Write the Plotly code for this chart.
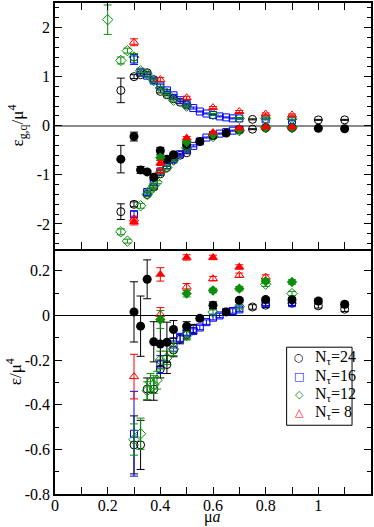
import plotly.graph_objects as go
from plotly.subplots import make_subplots

# ---- top panel: eps_g,q / mu^4 ----
# N_tau = 24 (black)
t24_pos_x = [0.25, 0.30, 0.325, 0.35, 0.375, 0.40, 0.425, 0.45, 0.475, 0.50, 0.75, 1.0, 1.1]
t24_pos_y = [0.72, 1.00, 1.04, 1.08, 0.94, 0.70, 0.63, 0.55, 0.48, 0.42, 0.13, 0.12, 0.12]
t24_pos_e = [0.25, 0.04, 0.03, 0.03, 0.03, 0.03, 0.02, 0.02, 0.02, 0.02, 0.01, 0.01, 0.01]
t24_neg_x = [0.25, 0.30, 0.35, 0.375, 0.40, 0.425, 0.45, 0.475, 0.50, 0.75]
t24_neg_y = [-1.75, -1.60, -1.40, -1.25, -0.98, -0.85, -0.70, -0.60, -0.55, -0.07]
t24_neg_e = [0.16, 0.05, 0.04, 0.04, 0.03, 0.03, 0.02, 0.02, 0.02, 0.01]
t24_fil_x = [0.25, 0.30, 0.325, 0.35, 0.375, 0.40, 0.425, 0.45, 0.50, 0.55, 0.60, 0.65, 0.70, 0.80, 0.90, 1.0, 1.1]
t24_fil_y = [-0.68, -0.22, -0.90, -0.94, -1.05, -0.51, -0.68, -0.59, -0.38, -0.32, -0.20, -0.15, -0.08, -0.04, -0.04, -0.05, -0.06]
t24_fil_e = [0.28, 0.09, 0.07, 0.04, 0.04, 0.07, 0.04, 0.03, 0.03, 0.02, 0.02, 0.02, 0.01, 0.01, 0.01, 0.01, 0.01]

# N_tau = 16 (blue)
t16_pos_x = [0.30, 0.325, 0.35, 0.375, 0.40, 0.425, 0.45, 0.475, 0.50, 0.525, 0.55, 0.575, 0.60,
             0.625, 0.65, 0.675, 0.70, 0.80, 0.90]
t16_pos_y = [1.35, 1.10, 1.02, 0.92, 0.82, 0.72, 0.62, 0.52, 0.44, 0.36, 0.29, 0.25, 0.22,
             0.19, 0.17, 0.15, 0.15, 0.13, 0.11]
t16_pos_e = [0.10, 0.04, 0.03, 0.03, 0.03, 0.02, 0.02, 0.02, 0.02, 0.02, 0.01, 0.01, 0.01,
             0.01, 0.01, 0.01, 0.01, 0.01, 0.01]
t16_neg_x = [0.30, 0.35, 0.375, 0.40, 0.425, 0.45, 0.475, 0.50, 0.525, 0.55, 0.575, 0.60,
             0.625, 0.65, 0.675, 0.70]
t16_neg_y = [-1.80, -1.35, -1.15, -0.93, -0.80, -0.68, -0.58, -0.48, -0.41, -0.32, -0.24, -0.19,
             -0.16, -0.13, -0.10, -0.08]
t16_neg_e = [0.06, 0.04, 0.03, 0.03, 0.03, 0.02, 0.02, 0.02, 0.02, 0.01, 0.01, 0.01,
             0.01, 0.01, 0.01, 0.01]

# N_tau = 12 (green)
t12_pos_x = [0.20, 0.25, 0.275, 0.30, 0.325, 0.35, 0.375, 0.40, 0.425, 0.45, 0.50, 0.60, 0.70, 0.80, 0.90]
t12_pos_y = [2.16, 1.33, 1.53, 1.40, 1.12, 1.05, 0.92, 0.77, 0.66, 0.52, 0.40, 0.23, 0.15, 0.15, 0.14]
t12_pos_e = [0.30, 0.07, 0.05, 0.07, 0.04, 0.04, 0.03, 0.03, 0.02, 0.02, 0.02, 0.02, 0.02, 0.02, 0.02]
t12_neg_x = [0.25, 0.275, 0.325, 0.35, 0.3625, 0.375, 0.3875, 0.40, 0.425, 0.45, 0.50, 0.60, 0.70, 0.80, 0.90]
t12_neg_y = [-2.16, -2.35, -1.63, -1.40, -1.31, -1.22, -1.15, -0.95, -0.85, -0.70, -0.45, -0.22, -0.10, -0.04, -0.04]
t12_neg_e = [0.06, 0.04, 0.05, 0.04, 0.04, 0.04, 0.03, 0.03, 0.03, 0.02, 0.02, 0.01, 0.01, 0.01, 0.01]
t12_fil_x = [0.40, 0.50, 0.60, 0.70, 0.80, 0.90]
t12_fil_y = [-0.65, -0.33, -0.18, -0.08, -0.04, -0.04]
t12_fil_e = [0.05, 0.03, 0.02, 0.01, 0.01, 0.01]

# N_tau = 8 (red)
t8_pos_x = [0.30, 0.40, 0.50, 0.60, 0.70, 0.80, 0.90]
t8_pos_y = [1.70, 0.94, 0.57, 0.37, 0.29, 0.24, 0.22]
t8_pos_e = [0.07, 0.04, 0.03, 0.02, 0.02, 0.02, 0.02]
t8_neg_x = [0.30, 0.40]
t8_neg_y = [-1.90, -0.92]
t8_neg_e = [0.06, 0.04]
t8_fil_x = [0.30, 0.40, 0.50, 0.60, 0.70, 0.80, 0.90]
t8_fil_y = [-1.96, -0.76, -0.25, -0.14, -0.05, -0.03, -0.03]
t8_fil_e = [0.06, 0.05, 0.03, 0.02, 0.01, 0.01, 0.01]

# ---- bottom panel: eps / mu^4 ----
b24_x = [0.30, 0.325, 0.35, 0.375, 0.40, 0.425, 0.45, 0.475, 0.50, 0.525, 0.75, 0.80, 0.90, 1.0, 1.1]
b24_y = [-0.58, -0.58, -0.33, -0.33, -0.24, -0.22, -0.155, -0.107, -0.085, -0.06, 0.038, 0.046, 0.055, 0.043, 0.028]
b24_e = [0.13, 0.11, 0.05, 0.05, 0.04, 0.04, 0.03, 0.02, 0.02, 0.02, 0.01, 0.01, 0.01, 0.01, 0.01]
b24f_x = [0.30, 0.325, 0.35, 0.375, 0.40, 0.425, 0.45, 0.50, 0.55, 0.60, 0.65, 0.70, 0.80, 0.90, 1.0, 1.1]
b24f_y = [0.016, -0.048, 0.162, -0.118, -0.128, -0.12, -0.063, -0.048, -0.013, 0.046, 0.016, 0.068, 0.071, 0.07, 0.065, 0.05]
b24f_e = [0.135, 0.135, 0.087, 0.09, 0.10, 0.09, 0.04, 0.02, 0.01, 0.015, 0.01, 0.01, 0.01, 0.01, 0.01, 0.01]

b16_x = [0.30, 0.40, 0.45, 0.475, 0.50, 0.525, 0.55, 0.575, 0.60, 0.625, 0.65, 0.675, 0.70, 0.80, 0.90]
b16_y = [-0.53, -0.22, -0.13, -0.10, -0.073, -0.07, -0.054, -0.03, -0.01, 0.0, 0.016, 0.02, 0.027, 0.055, 0.055]
b16_e = [0.19, 0.04, 0.03, 0.02, 0.02, 0.01, 0.01, 0.01, 0.01, 0.01, 0.01, 0.01, 0.01, 0.01, 0.01]

b12_x = [0.30, 0.325, 0.35, 0.3625, 0.375, 0.3875, 0.40, 0.425, 0.45, 0.50, 0.60, 0.70, 0.80, 0.90]
b12_y = [-0.556, -0.53, -0.337, -0.30, -0.31, -0.29, -0.20, -0.19, -0.15, -0.09, 0.015, 0.04, 0.14, 0.098]
b12_e = [0.07, 0.07, 0.04, 0.04, 0.04, 0.04, 0.04, 0.03, 0.03, 0.02, 0.01, 0.01, 0.01, 0.01]
b12f_x = [0.40, 0.50, 0.60, 0.70, 0.80, 0.90]
b12f_y = [-0.018, 0.098, 0.112, 0.12, 0.153, 0.15]
b12f_e = [0.04, 0.015, 0.01, 0.01, 0.01, 0.01]

b8_x = [0.30, 0.40, 0.50, 0.60, 0.70, 0.80]
b8_y = [-0.274, 0.005, 0.128, 0.165, 0.18, 0.172]
b8_e = [0.10, 0.03, 0.015, 0.01, 0.01, 0.01]
b8f_x = [0.40, 0.50, 0.60, 0.70]
b8f_y = [0.184, 0.26, 0.26, 0.217]
b8f_e = [0.03, 0.012, 0.01, 0.01]

x_ticks = [0, 0.2, 0.4, 0.6, 0.8, 1]
x_labels = ["0", "0.2", "0.4", "0.6", "0.8", "1"]
top_ticks = [-2, -1, 0, 1, 2]
top_labels = ["-2", "-1", "0", "1", "2"]
bot_ticks = [-0.8, -0.6, -0.4, -0.2, 0, 0.2]
bot_labels = ["-0.8", "-0.6", "-0.4", "-0.2", "0", "0.2"]

legend_labels = ["N<sub>τ</sub>=24", "N<sub>τ</sub>=16", "N<sub>τ</sub>=12", "N<sub>τ</sub>= 8"]
legend_glyphs = ["○", "□", "◇", "△"]

BLACK = "#000000"
BLUE = "#0000ff"
GREEN = "#0a8f0a"
RED = "#ff0000"
FONT = "Liberation Serif"

fig = make_subplots(rows=2, cols=1, shared_xaxes=True, vertical_spacing=0)


def add(x, y, e, color, symbol, row, size=8):
    filled = not symbol.endswith("-open")
    fig.add_trace(
        go.Scatter(
            x=x, y=y, mode="markers", showlegend=False,
            marker=dict(symbol=symbol, size=size, color=color,
                        line=dict(color=color, width=0 if filled else 1)),
            error_y=dict(type="data", array=e, color=color, thickness=1, width=4),
        ),
        row=row, col=1,
    )


# top panel
add(t24_pos_x, t24_pos_y, t24_pos_e, BLACK, "circle-open", 1)
add(t24_neg_x, t24_neg_y, t24_neg_e, BLACK, "circle-open", 1)
add(t16_pos_x, t16_pos_y, t16_pos_e, BLUE, "square-open", 1, 7)
add(t16_neg_x, t16_neg_y, t16_neg_e, BLUE, "square-open", 1, 7)
add(t12_pos_x, t12_pos_y, t12_pos_e, GREEN, "diamond-open", 1)
add(t12_neg_x, t12_neg_y, t12_neg_e, GREEN, "diamond-open", 1)
add(t8_pos_x, t8_pos_y, t8_pos_e, RED, "triangle-up-open", 1)
add(t8_neg_x, t8_neg_y, t8_neg_e, RED, "triangle-up-open", 1)
add(t24_fil_x, t24_fil_y, t24_fil_e, BLACK, "circle", 1, 9)
add(t12_fil_x, t12_fil_y, t12_fil_e, GREEN, "diamond", 1, 8)
add(t8_fil_x, t8_fil_y, t8_fil_e, RED, "triangle-up", 1, 9)

# bottom panel
add(b24_x, b24_y, b24_e, BLACK, "circle-open", 2)
add(b16_x, b16_y, b16_e, BLUE, "square-open", 2, 7)
add(b12_x, b12_y, b12_e, GREEN, "diamond-open", 2)
add(b8_x, b8_y, b8_e, RED, "triangle-up-open", 2)
add(b24f_x, b24f_y, b24f_e, BLACK, "circle", 2, 9)
add(b12f_x, b12f_y, b12f_e, GREEN, "diamond", 2, 8)
add(b8f_x, b8f_y, b8f_e, RED, "triangle-up", 2, 9)

axis_common = dict(showline=True, linecolor="black", linewidth=1.5,
                   ticks="inside", ticklen=7, tickcolor="black", showgrid=False,
                   tickfont=dict(family=FONT, size=16, color="black"))

fig.update_xaxes(range=[0, 1.2], tickmode="array", tickvals=x_ticks, ticktext=x_labels,
                 minor=dict(tickmode="linear", tick0=0, dtick=0.1, ticks="inside",
                            ticklen=7, tickcolor="black"),
                 zeroline=False, **axis_common)
fig.update_xaxes(showticklabels=False, mirror="ticks", row=1, col=1)
fig.update_xaxes(mirror=False, ticklabelstandoff=-4, row=2, col=1)

fig.update_yaxes(range=[-2.5, 2.5], tickmode="array", tickvals=top_ticks, ticktext=top_labels,
                 minor=dict(tickmode="linear", tick0=0, dtick=0.2, ticks="inside",
                            ticklen=4, tickcolor="black"),
                 zeroline=True, zerolinecolor="#8a8a8a", zerolinewidth=2, mirror="ticks",
                 row=1, col=1, **axis_common)
fig.update_yaxes(range=[-0.8, 0.3], tickmode="array", tickvals=bot_ticks, ticktext=bot_labels,
                 minor=dict(tickmode="linear", tick0=0, dtick=0.1, ticks="inside",
                            ticklen=4, tickcolor="black"),
                 zeroline=True, zerolinecolor="black", zerolinewidth=1, mirror="ticks",
                 row=2, col=1, **axis_common)

# axis titles
fig.add_annotation(text="ε<sub>g,q</sub>/μ<sup>4</sup>", xref="paper", yref="paper",
                   x=-0.118, y=0.75, xanchor="center", yanchor="middle", textangle=-90,
                   showarrow=False, font=dict(family=FONT, size=17, color="black"))
fig.add_annotation(text="ε/μ<sup>4</sup>", xref="paper", yref="paper",
                   x=-0.13, y=0.25, xanchor="center", yanchor="middle", textangle=-90,
                   showarrow=False, font=dict(family=FONT, size=17, color="black"))
fig.add_annotation(text="μ<i>a</i>", xref="paper", yref="paper",
                   x=0.497, y=-0.047, xanchor="center", yanchor="middle", showarrow=False,
                   font=dict(family=FONT, size=16, color="black"))

# legend box, drawn by hand to match the compact original
leg_colors = [BLACK, BLUE, GREEN, RED]
leg_y = [0.278, 0.240, 0.203, 0.166]
fig.add_shape(type="rect", xref="paper", yref="paper", x0=0.733, x1=0.940, y0=0.140, y1=0.299,
              line=dict(color="black", width=1), fillcolor="white", layer="above")
for glyph, label, color, yy in zip(legend_glyphs, legend_labels, leg_colors, leg_y):
    fig.add_annotation(text=glyph, xref="paper", yref="paper", x=0.773, y=yy,
                       xanchor="center", yanchor="middle", showarrow=False,
                       font=dict(family="DejaVu Sans", size=11, color=color))
    fig.add_annotation(text=label, xref="paper", yref="paper", x=0.818, y=yy,
                       xanchor="left", yanchor="middle", showarrow=False,
                       font=dict(family=FONT, size=16, color="black"))

fig.update_layout(
    width=374, height=527,
    margin=dict(l=55, r=1, t=2, b=33),
    plot_bgcolor="white", paper_bgcolor="white",
    font=dict(family=FONT, size=16, color="black"),
    showlegend=False,
)

# the page's default body margin would shift the figure by 8px
fig.write_html("out.html", config={"displayModeBar": False},
               post_script="document.body.style.margin='0px';")
